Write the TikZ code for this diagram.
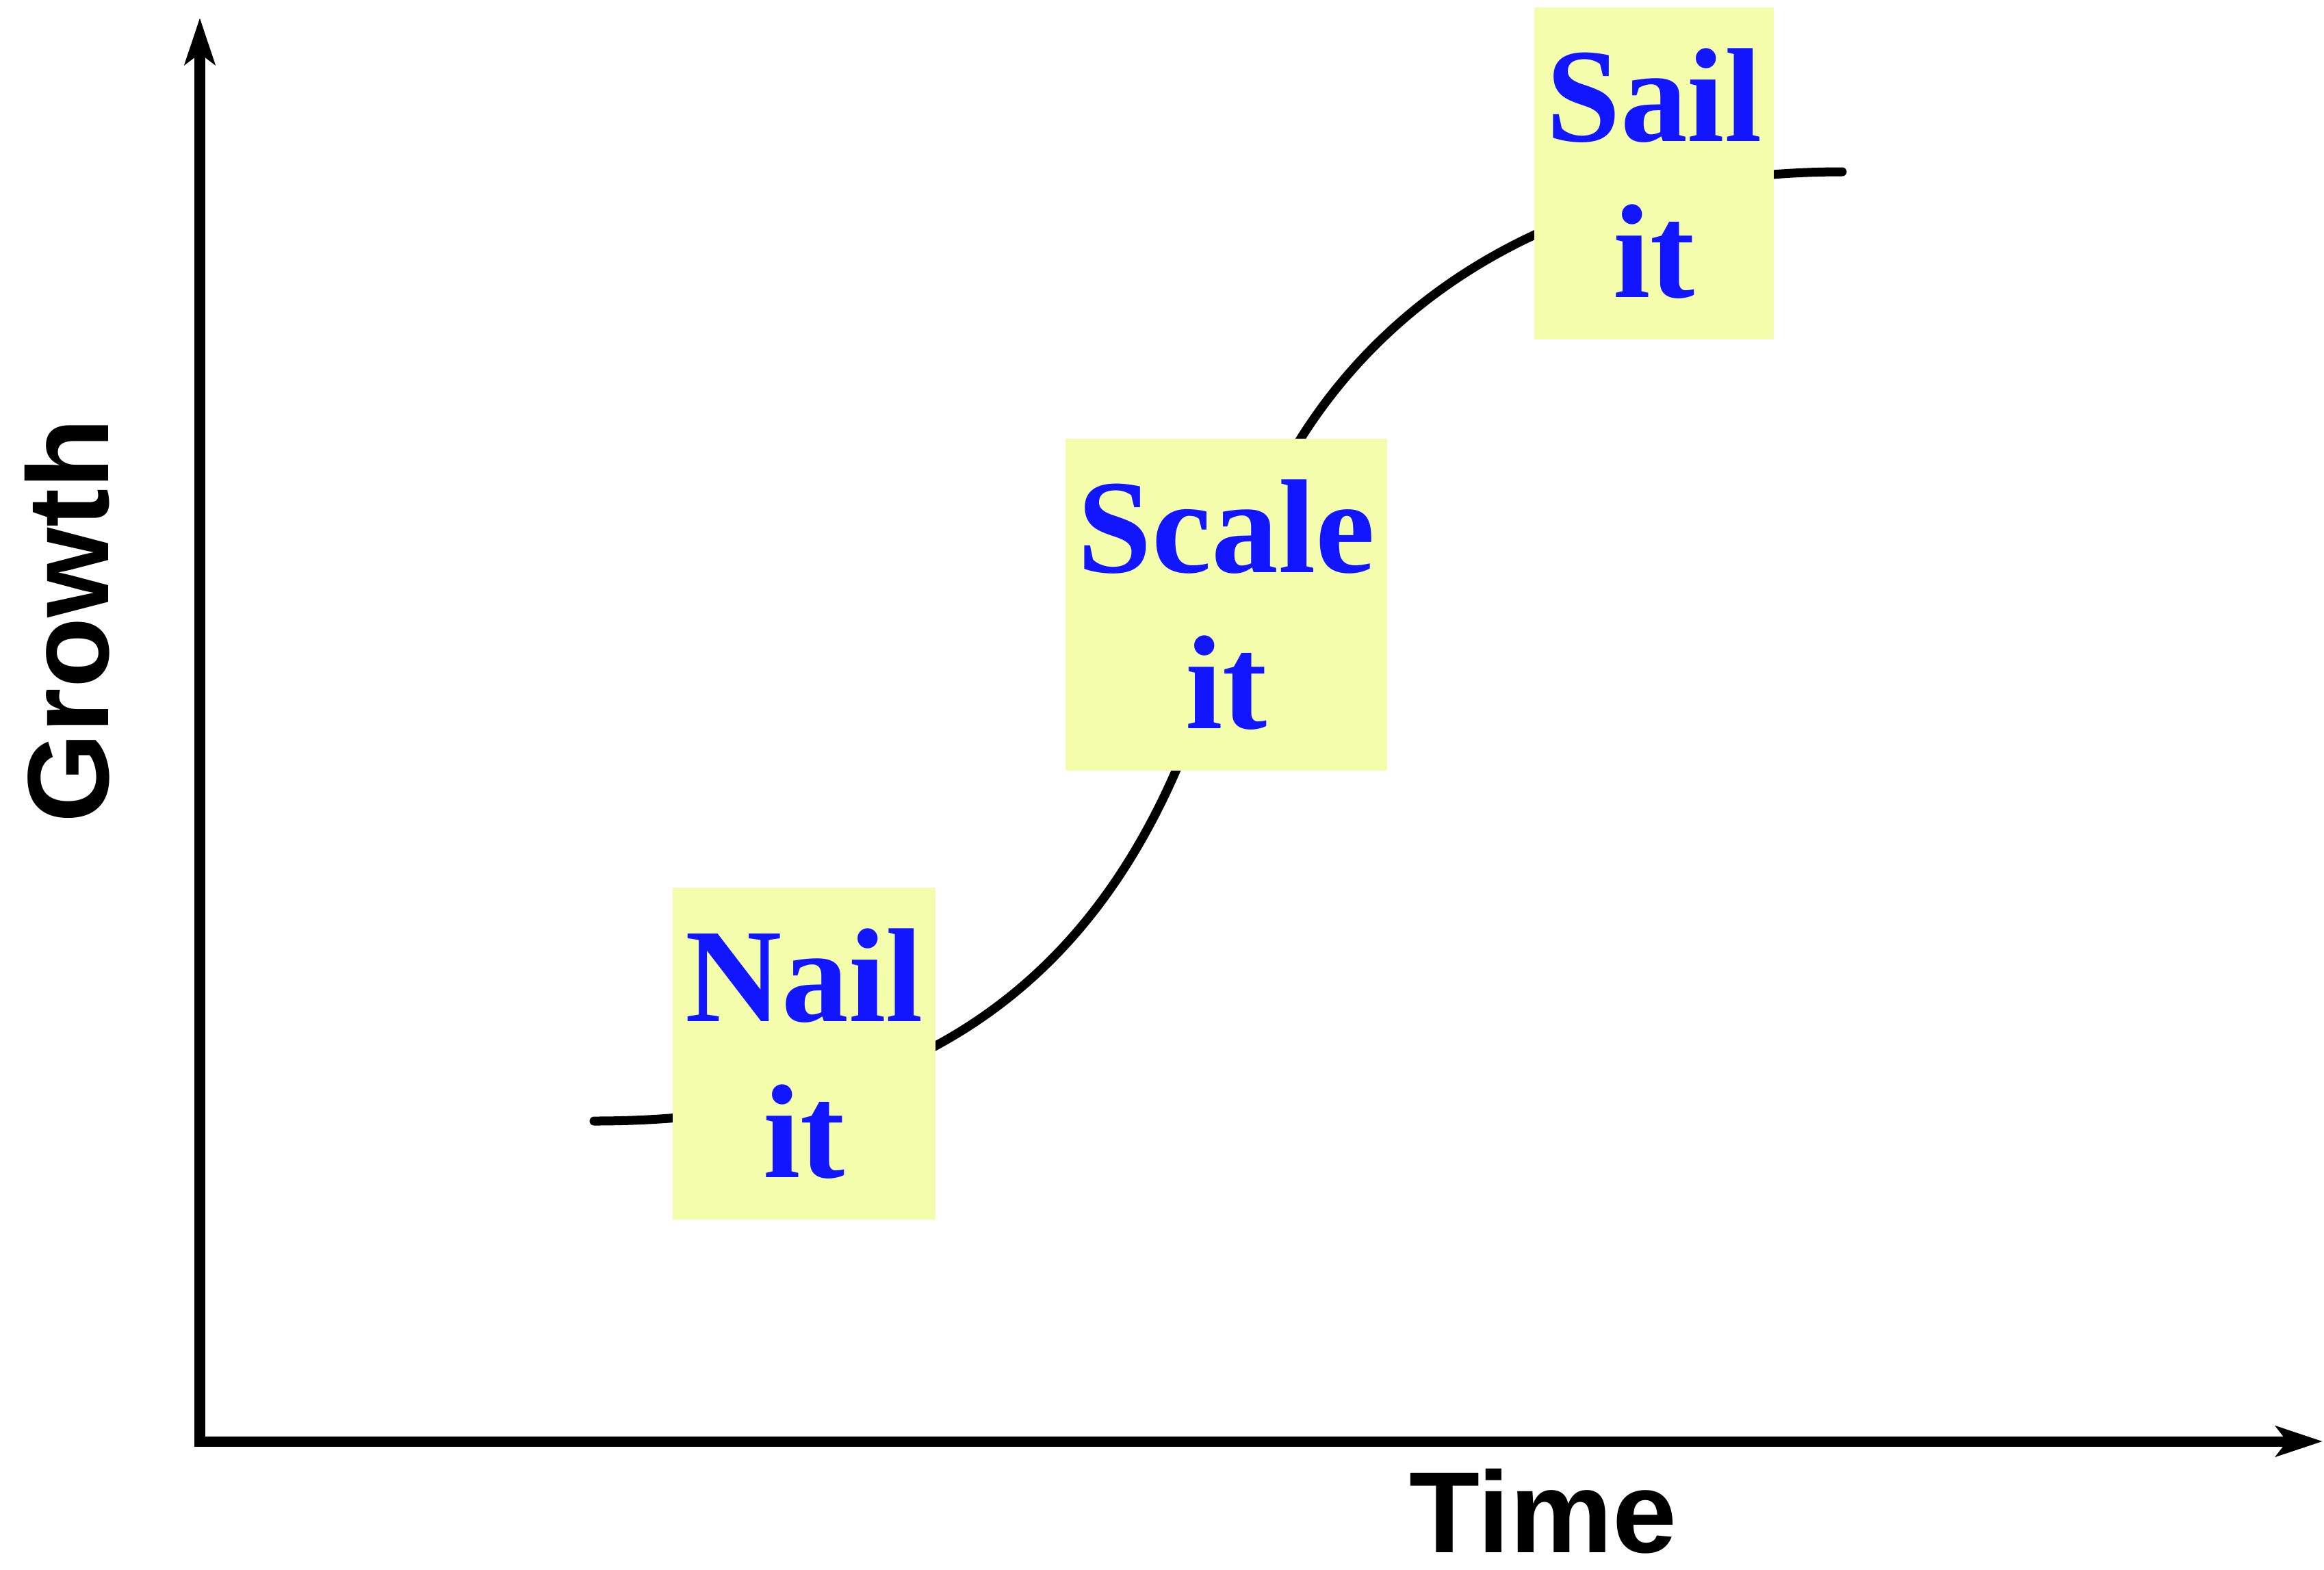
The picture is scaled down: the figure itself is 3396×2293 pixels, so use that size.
\documentclass[tikz,border=0pt]{standalone}
\usepackage{fontspec}
\setmainfont{Liberation Serif}
\setsansfont{Liberation Sans}
\usetikzlibrary{arrows.meta}
\definecolor{notefill}{RGB}{244,253,171}
\definecolor{noteink}{RGB}{17,22,255}
\tikzset{
  axistip/.tip={Stealth[length=0.68cm,width=0.44cm,inset=0.16cm]},
  axisline/.style={line width=0.15cm, line join=miter, axistip-axistip},
  scurve/.style={line width=0.13cm, line cap=round},
  stage/.style={fill=notefill, draw=none, inner sep=0pt, minimum height=4.85cm,
    align=center, text=noteink,
    font=\fontsize{55.6pt}{64.9pt}\selectfont\bfseries},
  axislabel/.style={font=\fontsize{48pt}{56pt}\selectfont\sffamily\bfseries, inner sep=0pt}
}
\begin{document}
\begin{tikzpicture}[x=0.01cm, y=-0.01cm]
  \useasboundingbox (0,0) rectangle (3396,2293);

  % axes
  \coordinate (ytip) at (292,26);
  \coordinate (origin) at (292,2106);
  \coordinate (xtip) at (3394,2106);
  \draw[axisline] (ytip) -- (origin) -- (xtip);

  % axis labels
  \node[axislabel, rotate=90, anchor=base] (growth) at (158,907) {Growth};
  \node[axislabel, anchor=base] (time) at (2255,2268) {Time};

  % growth curve (drawn behind the stage boxes)
  \coordinate (cstart) at (868,1638);
  \coordinate (cmid) at (1800,880);
  \coordinate (cend) at (2692,251);
  \draw[scurve] (cstart) .. controls (1488,1638) and (1700,1280) .. (cmid)
                         .. controls (1885,530) and (2192,251) .. (cend);

  % stages
  \node[stage, minimum width=3.84cm] (nail)  at (1175,1539.5) {Nail\\it};
  \node[stage, minimum width=4.70cm] (scale) at (1792,883.5) {Scale\\it};
  \node[stage, minimum width=3.50cm] (sail)  at (2417,253.5) {Sail\\it};
\end{tikzpicture}
\end{document}
